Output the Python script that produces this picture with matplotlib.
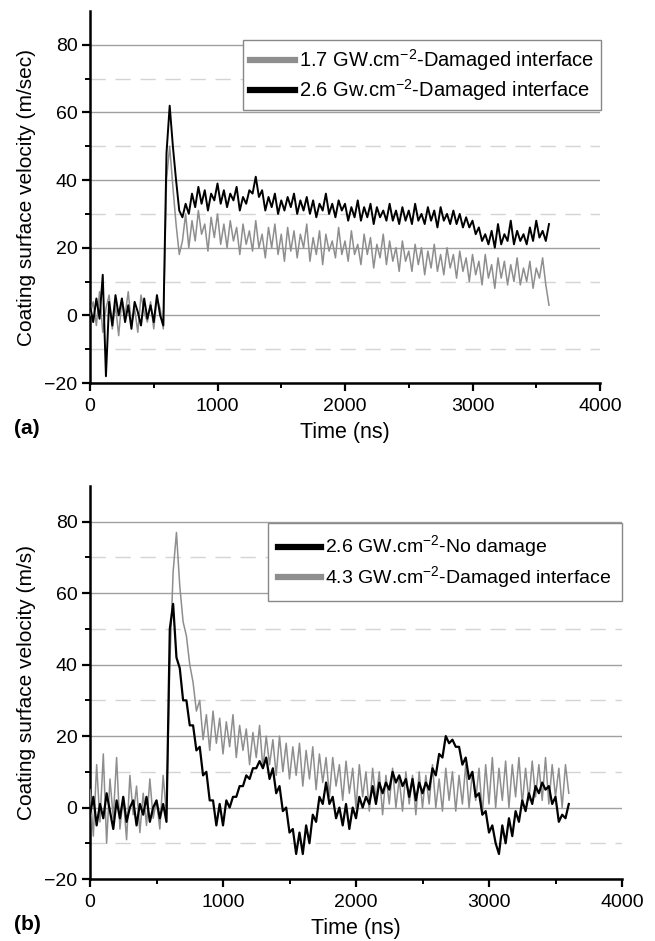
import numpy as np
import matplotlib
matplotlib.use("Agg")
import matplotlib.pyplot as plt
from matplotlib.ticker import FixedLocator, MultipleLocator

plt.rcParams['font.family'] = ['Liberation Sans', 'DejaVu Sans']
plt.rcParams['mathtext.fontset'] = 'custom'
plt.rcParams['mathtext.rm'] = 'Liberation Sans'

DT = 25

# ---------------- Panel (a) ----------------
a_label_gray = r'1.7 GW.cm$^{-2}$-Damaged interface'
a_label_black = r'2.6 Gw.cm$^{-2}$-Damaged interface'
a_gray = [
    0, 4, -3, 7, -5, 2, 6, -4,
    3, -6, 5, 0, 7, -3, 2, -5,
    6, 1, -2, 4, -4, 5, 2, -4,
    40, 50, 38, 27, 18, 22, 30, 20,
    28, 22, 31, 24, 27, 19, 29, 23,
    30, 21, 27, 20, 28, 22, 26, 18,
    27, 21, 25, 19, 28, 20, 24, 17,
    26, 20, 27, 18, 24, 16, 26, 19,
    25, 17, 24, 20, 27, 16, 23, 18,
    25, 15, 24, 19, 22, 17, 26, 18,
    22, 16, 25, 18, 21, 15, 24, 18,
    23, 14, 21, 17, 24, 15, 22, 16,
    20, 13, 22, 16, 19, 13, 21, 15,
    20, 12, 19, 14, 21, 13, 18, 12,
    20, 14, 18, 11, 19, 13, 17, 10,
    18, 12, 16, 9, 18, 11, 15, 8,
    17, 11, 16, 9, 15, 10, 17, 9,
    14, 10, 16, 8, 14, 11, 17, 9,
    3,
]
a_black = [
    3, -2, 5, -1, 12, -18, 4, -3,
    6, 0, 5, -2, 3, -4, 4, 1,
    -3, 5, -1, 3, -2, 6, 0, -3,
    48, 62, 50, 40, 31, 29, 33, 30,
    36, 32, 38, 33, 37, 31, 36, 34,
    39, 33, 37, 32, 36, 34, 38, 31,
    35, 33, 37, 36, 41, 35, 37, 31,
    35, 32, 36, 30, 34, 31, 35, 32,
    36, 30, 34, 31, 35, 30, 34, 29,
    33, 31, 36, 30, 33, 29, 34, 31,
    33, 28, 32, 29, 34, 28, 32, 29,
    33, 27, 32, 29, 31, 28, 33, 28,
    31, 27, 32, 28, 31, 27, 33, 28,
    30, 27, 32, 28, 31, 26, 32, 28,
    30, 27, 31, 27, 30, 26, 29, 26,
    28, 24, 26, 22, 24, 21, 25, 20,
    27, 21, 24, 22, 28, 21, 25, 22,
    24, 21, 26, 22, 28, 23, 25, 22,
    27,
]

# ---------------- Panel (b) ----------------
b_label_black = r'2.6 GW.cm$^{-2}$-No damage'
b_label_gray = r'4.3 GW.cm$^{-2}$-Damaged interface'
b_black = [
    -2, 3, -5, 1, -3, 4, -1, -6,
    2, -3, 3, -4, 0, 2, -5, 1,
    -2, 3, -4, 0, 2, -3, 1, -4,
    50, 57, 42, 39, 30, 30, 23, 23,
    16, 17, 9, 10, 2, 2, -5, 1,
    -5, 2, 0, 3, 3, 6, 6, 9,
    8, 11, 11, 13, 11, 14, 8, 11,
    4, 6, -1, 0, -7, -6, -13, -7,
    -13, -5, -10, -2, -4, 3, 1, 7,
    1, 3, -3, 0, -5, 1, -6, 0,
    -3, 3, 0, 3, 1, 6, 1, 7,
    4, 7, 5, 10, 7, 9, 6, 8,
    3, 8, 2, 7, 4, 7, 5, 11,
    9, 15, 14, 20, 18, 19, 17, 17,
    12, 14, 8, 10, 3, 4, -2, -1,
    -7, -5, -10, -13, -5, -10, -3, -8,
    -1, -4, 2, -1, 4, 1, 6, 4,
    7, 5, 6, 1, 3, -4, -2, -3,
    1,
]
b_gray = [
    5, -8, 12, -4, 15, -10, 8, -3,
    14, -6, 3, -9, 9, -2, 6, -7,
    4, -5, 8, -3, 2, -6, 9, -2,
    40, 66, 77, 62, 52, 48, 40, 35,
    27, 30, 19, 26, 16, 27, 18, 25,
    15, 24, 17, 26, 14, 23, 16, 22,
    12, 21, 14, 23, 11, 20, 12, 19,
    9, 20, 10, 18, 8, 17, 9, 18,
    6, 16, 8, 17, 5, 15, 7, 14,
    3, 14, 6, 12, 2, 13, 4, 11,
    0, 12, 3, 10, -1, 11, 2, 10,
    -2, 9, 1, 11, 0, 8, -1, 10,
    1, 9, -2, 10, 0, 9, 1, 12,
    0, 8, -1, 11, 2, 10, -1, 9,
    1, 12, 0, 10, 2, 11, -2, 12,
    1, 14, 0, 11, 2, 13, 0, 12,
    3, 14, 1, 11, 2, 13, 3, 12,
    2, 14, 1, 12, 3, 11, 0, 12,
    4,
]

x_ticks = [0, 1000, 2000, 3000, 4000]
y_ticks = [-20, 0, 20, 40, 60, 80]
y_minor = [-10, 10, 30, 50, 70]

GRAY = '#8e8e8e'
BLACK = '#000000'

fig = plt.figure(figsize=(6.55, 9.41), dpi=100)
ax_a = fig.add_axes([90/655, 1-383/941, (600-90)/655, (383-11)/941])
ax_b = fig.add_axes([90/655, 1-879/941, (622-90)/655, (879-486)/941])


def style(ax, ylabel):
    ax.set_xlim(0, 4000)
    ax.set_ylim(-20, 90)
    ax.set_xticks(x_ticks)
    ax.set_yticks(y_ticks)
    ax.xaxis.set_minor_locator(MultipleLocator(500))
    ax.yaxis.set_minor_locator(FixedLocator(y_minor))
    for s in ['top', 'right']:
        ax.spines[s].set_visible(False)
    for s in ['left', 'bottom']:
        ax.spines[s].set_linewidth(1.8)
    ax.tick_params(which='major', direction='out', length=6, width=1.6, labelsize=14)
    ax.tick_params(axis='x', which='major', pad=5)
    ax.tick_params(axis='y', which='major', pad=3)
    ax.tick_params(which='minor', direction='out', length=3.5, width=1.4)
    ax.yaxis.grid(True, which='major', color='#a0a0a0', linewidth=1.0, linestyle='-')
    ax.yaxis.grid(True, which='minor', color='#d4d4d4', linewidth=1.0, linestyle=(0, (11, 7)))
    ax.set_axisbelow(True)
    ax.set_xlabel('Time (ns)', fontsize=15.5, labelpad=5)
    ax.set_ylabel(ylabel, fontsize=15, labelpad=6)


def t_of(v):
    return DT * np.arange(len(v))


# panel (a)
ax_a.plot(t_of(a_gray), a_gray, color=GRAY, lw=1.1, zorder=3)
ax_a.plot(t_of(a_black), a_black, color=BLACK, lw=1.4, zorder=4)
style(ax_a, 'Coating surface velocity (m/sec)')
ha = [plt.Line2D([], [], color=GRAY, lw=4.5), plt.Line2D([], [], color=BLACK, lw=4.5)]
leg_a = ax_a.legend(ha, [a_label_gray, a_label_black], loc='upper right',
                    bbox_to_anchor=(601/655, 1-40/941), bbox_transform=fig.transFigure,
                    borderaxespad=0, fontsize=14.5, handlelength=2.2, handletextpad=0.2,
                    fancybox=False, edgecolor='#888888', framealpha=1, labelspacing=0.2,
                    borderpad=0.35)
leg_a.get_frame().set_linewidth(1.0)

# panel (b)
ax_b.plot(t_of(b_gray), b_gray, color=GRAY, lw=1.1, zorder=3)
ax_b.plot(t_of(b_black), b_black, color=BLACK, lw=1.6, zorder=4)
style(ax_b, 'Coating surface velocity (m/s)')
hb = [plt.Line2D([], [], color=BLACK, lw=4.5), plt.Line2D([], [], color=GRAY, lw=4.5)]
leg_b = ax_b.legend(hb, [b_label_black, b_label_gray], loc='upper right',
                    bbox_to_anchor=(622/655, 1-523/941), bbox_transform=fig.transFigure,
                    borderaxespad=0, fontsize=14, handlelength=2.2, handletextpad=0.2,
                    fancybox=False, edgecolor='#888888', framealpha=1, labelspacing=0.2,
                    borderpad=0.55)
leg_b.get_frame().set_linewidth(1.0)

fig.text(14/655, 1-428/941, '(a)', fontsize=15, fontweight='bold', va='center', ha='left')
fig.text(14/655, 1-924/941, '(b)', fontsize=15, fontweight='bold', va='center', ha='left')

fig.savefig('out.png', dpi=100)
